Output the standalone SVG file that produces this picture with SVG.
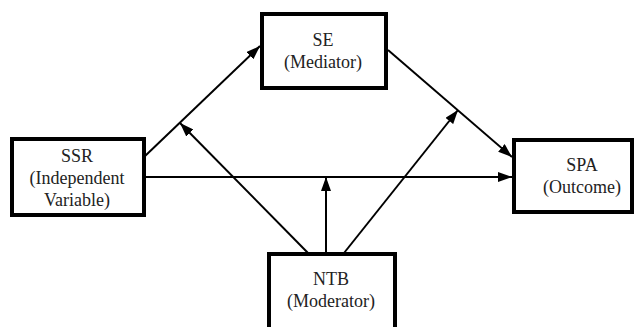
<svg xmlns="http://www.w3.org/2000/svg" width="636" height="327" viewBox="0 0 636 327">
<defs>
<marker id="ah" viewBox="0 0 14 10" refX="14" refY="5" markerWidth="14" markerHeight="10" markerUnits="userSpaceOnUse" orient="auto">
<path d="M0,0 L14,5 L0,10 Z" fill="#000"/>
</marker>
<style>
.box{fill:#fff;stroke:#000;stroke-width:4}
.lbl{font-size:18px;fill:#222;text-anchor:middle}
.con{stroke:#000;stroke-width:2;fill:none;marker-end:url(#ah)}
</style>
</defs>
<rect width="636" height="327" fill="#fff"/>
<g id="connectors">
<line class="con" x1="144" y1="157" x2="260" y2="46"/>
<line class="con" x1="144" y1="177" x2="512" y2="177"/>
<line class="con" x1="388" y1="50" x2="512" y2="157"/>
<line class="con" x1="308" y1="253" x2="180" y2="123"/>
<line class="con" x1="326" y1="253" x2="326" y2="177"/>
<line class="con" x1="344" y1="253" x2="458" y2="110"/>
</g>
<g font-family="'Liberation Serif', 'DejaVu Serif', serif">
<g id="SSR">
<rect class="box" x="12" y="139" width="132" height="76"/>
<text class="lbl" x="77" y="162">SSR</text>
<text class="lbl" x="77" y="184">(Independent</text>
<text class="lbl" x="77" y="206">Variable)</text>
</g>
<g id="SE">
<rect class="box" x="262" y="14" width="124" height="74"/>
<text class="lbl" x="323" y="46">SE</text>
<text class="lbl" x="323" y="68">(Mediator)</text>
</g>
<g id="SPA">
<rect class="box" x="514" y="140" width="118" height="72"/>
<text class="lbl" x="582" y="171">SPA</text>
<text class="lbl" x="582" y="193">(Outcome)</text>
</g>
<g id="NTB">
<rect class="box" x="269" y="254" width="126" height="80"/>
<text class="lbl" x="331" y="285">NTB</text>
<text class="lbl" x="331" y="307">(Moderator)</text>
</g>
</g>
</svg>
